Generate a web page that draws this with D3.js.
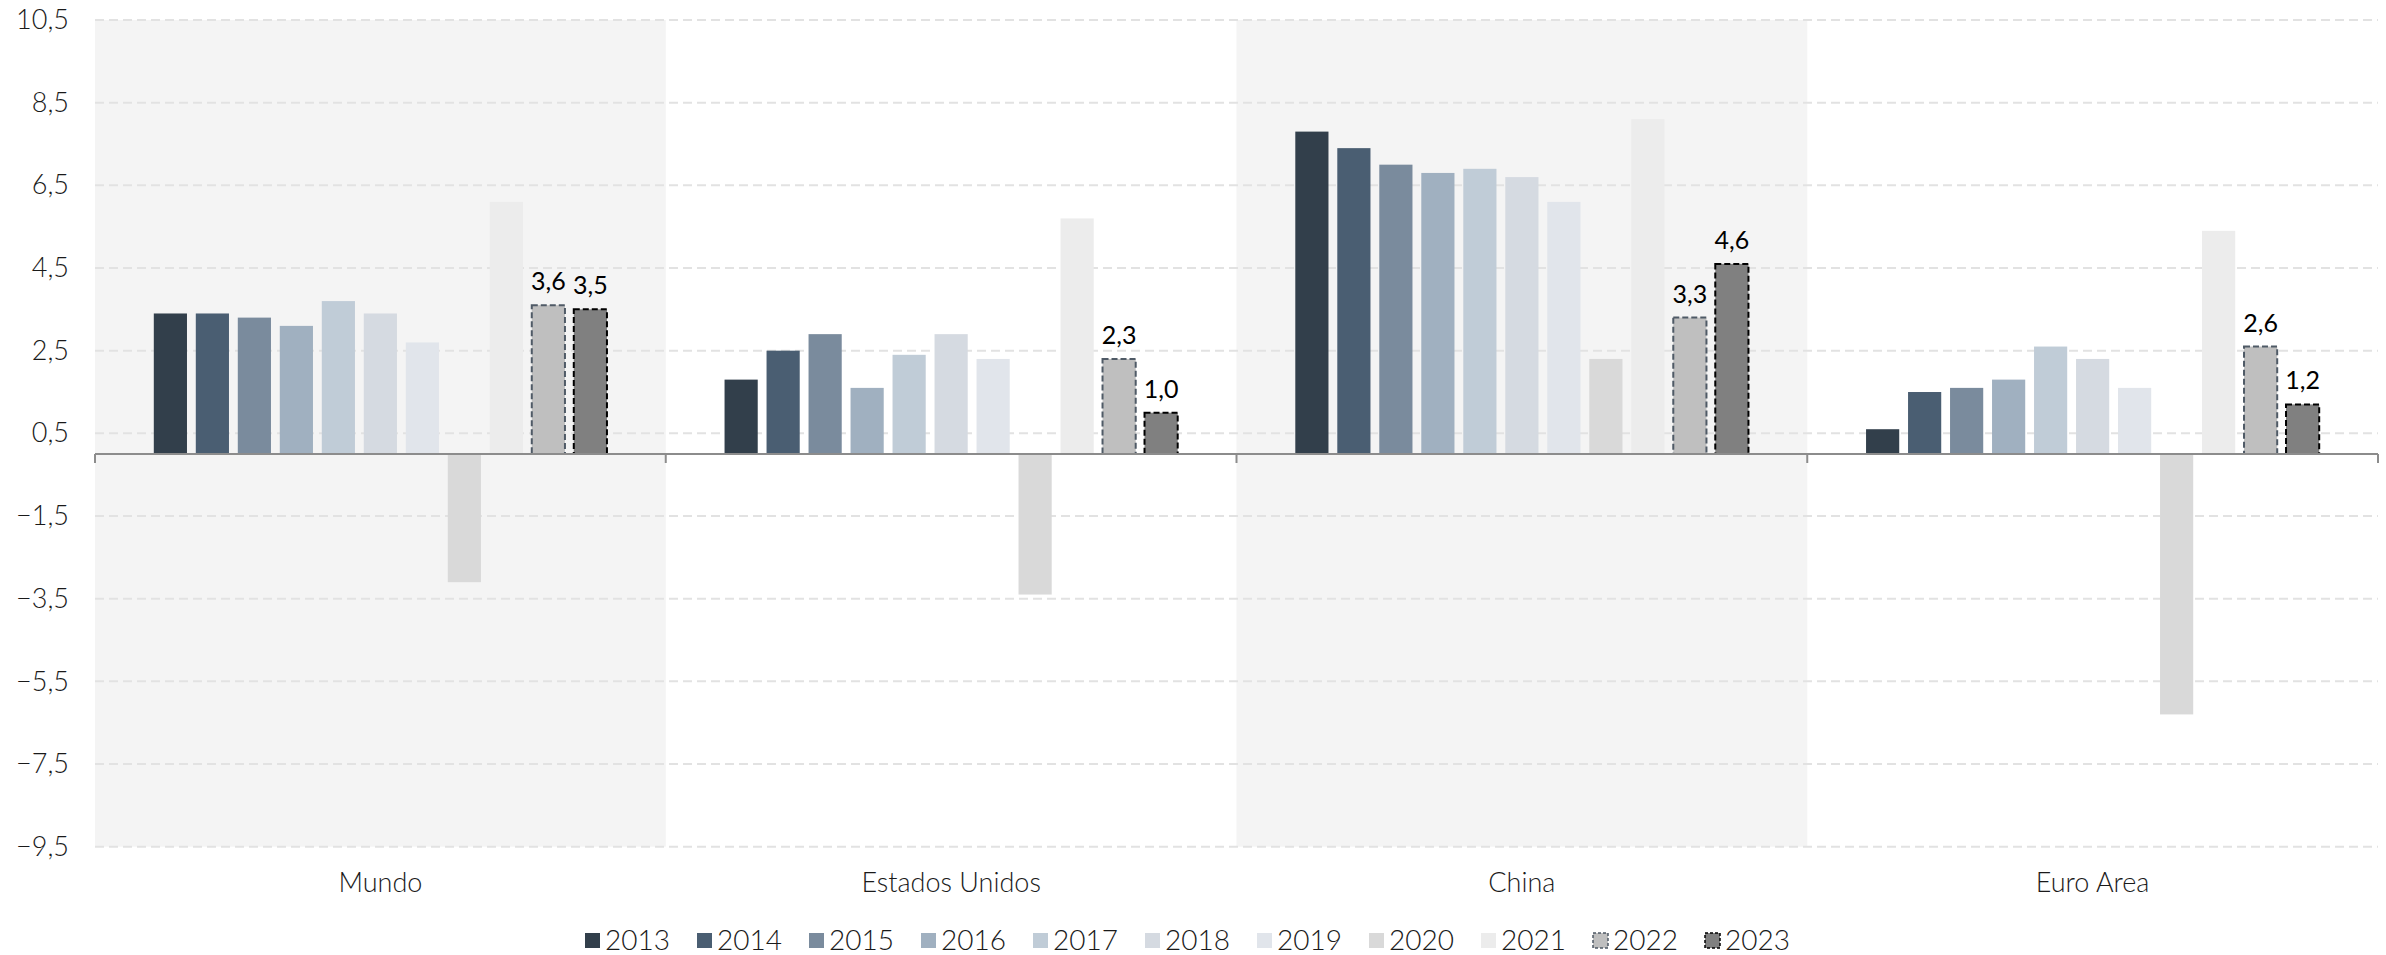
<!DOCTYPE html>
<html>
<head>
<meta charset="utf-8">
<script src="https://cdn.jsdelivr.net/npm/d3@7"></script>
<style>
  html, body { margin: 0; padding: 0; background: #ffffff; }
  svg { display: block; }
  text { font-family: "Lato", "DejaVu Sans", sans-serif; }
</style>
</head>
<body>
<svg id="chart" width="2386" height="955"></svg>
<script>
// ---- data ----
const categories = ["Mundo", "Estados Unidos", "China", "Euro Area"];
const years = ["2013","2014","2015","2016","2017","2018","2019","2020","2021","2022","2023"];
const mundo         = [3.4, 3.4, 3.3, 3.1, 3.7, 3.4, 2.7, -3.1, 6.1, 3.6, 3.5];
const estadosUnidos = [1.8, 2.5, 2.9, 1.6, 2.4, 2.9, 2.3, -3.4, 5.7, 2.3, 1.0];
const china         = [7.8, 7.4, 7.0, 6.8, 6.9, 6.7, 6.1, 2.3, 8.1, 3.3, 4.6];
const euroArea      = [0.6, 1.5, 1.6, 1.8, 2.6, 2.3, 1.6, -6.3, 5.4, 2.6, 1.2];
const yTicks = [-9.5, -7.5, -5.5, -3.5, -1.5, 0.5, 2.5, 4.5, 6.5, 8.5, 10.5];
const labelledYears = ["2022", "2023"];

const seriesByCategory = [mundo, estadosUnidos, china, euroArea];
const colors = ["#323f4b","#4a5e72","#7a8b9d","#a0b0c0","#c0ccd7","#d5dae1","#e1e5eb","#d9d9d9","#ececec","#bfbfbf","#808080"];
const strokes = {"2022": "#4f5a66", "2023": "#000000"};

const svg = d3.select("#chart");
const plotLeft = 95, plotRight = 2378, plotTop = 20, plotBottom = 846.7;

const x0 = d3.scaleBand().domain(categories).range([plotLeft, plotRight]).padding(0);
const x1 = d3.scaleBand().domain(years).range([0, x0.bandwidth()]).paddingInner(0.21).paddingOuter(1.4);
const y = d3.scaleLinear().domain([-9.5, 10.5]).range([plotBottom, plotTop]);
const fmt = v => d3.format(".1f")(v).replace(".", ",");

// panels
svg.append("g").selectAll("rect")
  .data(categories.filter((d, i) => i % 2 === 0))
  .join("rect")
  .attr("x", d => x0(d))
  .attr("y", y(10.5))
  .attr("width", x0.bandwidth())
  .attr("height", y(-9.5) - y(10.5))
  .attr("fill", "#f4f4f4");

// grid
svg.append("g").selectAll("line")
  .data(yTicks)
  .join("line")
  .attr("x1", plotLeft).attr("x2", plotRight)
  .attr("y1", d => y(d)).attr("y2", d => y(d))
  .attr("stroke", "#e2e2e2")
  .attr("stroke-width", 2)
  .attr("stroke-dasharray", "9,5");

// y axis
const yAxis = svg.append("g")
  .attr("transform", `translate(${plotLeft},0)`)
  .call(d3.axisLeft(y).tickValues(yTicks).tickSize(0).tickPadding(26).tickFormat(fmt));
yAxis.select(".domain").remove();
yAxis.selectAll("text").attr("font-size", 27).attr("font-weight", 300).attr("fill", "#1a1a1a")
  .style("font-family", '"Lato", sans-serif');

// bars
const rows = [];
categories.forEach((c, ci) => {
  years.forEach((yr, yi) => rows.push({cat: c, year: yr, yi: yi, value: seriesByCategory[ci][yi]}));
});

svg.append("g").selectAll("rect")
  .data(rows)
  .join("rect")
  .attr("x", d => x0(d.cat) + x1(d.year))
  .attr("y", d => y(Math.max(0, d.value)))
  .attr("width", x1.bandwidth())
  .attr("height", d => Math.abs(y(d.value) - y(0)))
  .attr("fill", d => colors[d.yi])
  .attr("stroke", d => strokes[d.year] || "none")
  .attr("stroke-width", d => strokes[d.year] ? 2 : 0)
  .attr("stroke-dasharray", d => strokes[d.year] ? "6,3" : null);

// zero line + boundary ticks
svg.append("line")
  .attr("x1", plotLeft).attr("x2", plotRight)
  .attr("y1", y(0)).attr("y2", y(0))
  .attr("stroke", "#8c8c8c").attr("stroke-width", 2);
const boundaries = categories.map(c => x0(c)).concat([x0.range()[1]]);
svg.append("g").selectAll("line")
  .data(boundaries)
  .join("line")
  .attr("x1", d => d).attr("x2", d => d)
  .attr("y1", y(0)).attr("y2", y(0) + 9)
  .attr("stroke", "#8c8c8c").attr("stroke-width", 2);

// value labels
svg.append("g").selectAll("text")
  .data(rows.filter(d => labelledYears.includes(d.year)))
  .join("text")
  .attr("x", d => x0(d.cat) + x1(d.year) + x1.bandwidth() / 2)
  .attr("y", d => y(d.value) - 15)
  .attr("text-anchor", "middle")
  .attr("font-size", 25)
  .attr("font-weight", 400)
  .attr("fill", "#000")
  .text(d => fmt(d.value));

// category axis
const xAxis = svg.append("g")
  .attr("transform", `translate(0,${plotBottom})`)
  .call(d3.axisBottom(x0).tickSize(0).tickPadding(26));
xAxis.select(".domain").remove();
xAxis.selectAll("text").attr("font-size", 27).attr("font-weight", 300).attr("fill", "#1a1a1a")
  .style("font-family", '"Lato", sans-serif');

// legend
const legend = svg.append("g").selectAll("g")
  .data(years)
  .join("g")
  .attr("transform", (d, i) => `translate(${585 + i * 112},0)`);
legend.append("rect")
  .attr("x", 0).attr("y", 933)
  .attr("width", 15).attr("height", 15)
  .attr("fill", (d, i) => colors[i])
  .attr("stroke", d => strokes[d] || "none")
  .attr("stroke-width", d => strokes[d] ? 1.5 : 0)
  .attr("stroke-dasharray", d => strokes[d] ? "3,2" : null);
legend.append("text")
  .attr("x", 20).attr("y", 950)
  .attr("font-size", 28).attr("font-weight", 300).attr("fill", "#1a1a1a")
  .text(d => d);
</script>
</body>
</html>
